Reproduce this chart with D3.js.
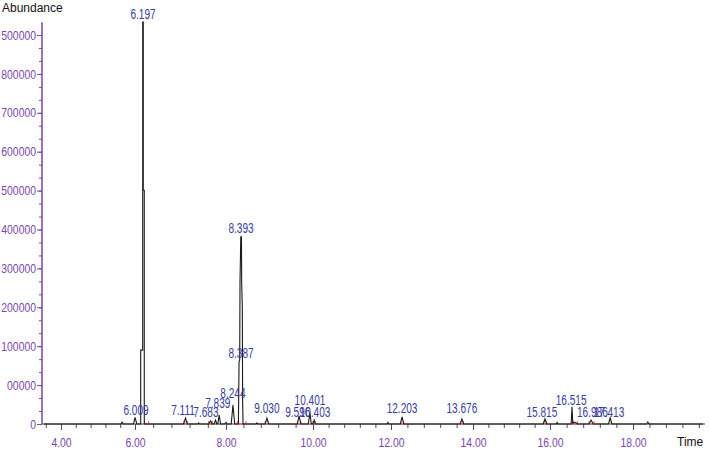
<!DOCTYPE html>
<html>
<head>
<meta charset="utf-8">
<script src="https://cdn.jsdelivr.net/npm/d3@7"></script>
<style>
  body { margin: 0; background: #fff; }
  .narrow { font-family: "Liberation Sans", Arial, sans-serif; }
  .axisTitle { font-family: "Liberation Sans", Arial, sans-serif; font-size: 12px; fill: #111; }
</style>
</head>
<body>
<script>
// chromatogram trace, [time (min), abundance]
var trace = [
    [3.55, 0], [5.62, 0], [5.65, 5000], [5.68, 0],
    [5.96, 0], [6.0, 17000], [6.04, 0],
    [6.125, 0], [6.125, 190000], [6.169, 190000], [6.169, 1033000], [6.182, 1033000],
    [6.182, 601000], [6.204, 601000], [6.204, 0],
    [7.07, 0], [7.11, 15000], [7.15, 0],
    [7.38, 0], [7.40, 3000], [7.42, 0],
    [7.62, 0], [7.66, 8000], [7.70, 0],
    [7.74, 0], [7.77, 10000], [7.80, 0],
    [7.82, 0], [7.85, 23000], [7.88, 0],
    [7.97, 0], [8.0, 4000], [8.03, 0],
    [8.12, 0], [8.16, 49000], [8.20, 0],
    [8.285, 0], [8.30, 160000], [8.315, 165000], [8.322, 365000], [8.34, 481000],
    [8.355, 481000], [8.36, 365000], [8.375, 300000], [8.382, 60000], [8.392, 0],
    [8.69, 0], [8.71, 3000], [8.73, 0],
    [8.90, 0], [8.94, 15000], [8.98, 0],
    [9.64, 0], [9.68, 21000], [9.72, 0],
    [9.89, 0], [9.93, 28000], [9.96, 0],
    [10.0, 0], [10.03, 10000], [10.06, 0],
    [11.9, 0], [11.92, 4000], [11.94, 0],
    [12.23, 0], [12.27, 18000], [12.31, 0],
    [13.69, 0], [13.73, 13000], [13.77, 0],
    [15.83, 0], [15.87, 13000], [15.91, 0],
    [16.15, 0], [16.17, 4000], [16.19, 0],
    [16.51, 0], [16.53, 44000], [16.55, 0], [16.56, 5000], [16.62, 3000], [16.66, 0],
    [16.94, 0], [16.99, 10000], [17.04, 0],
    [17.41, 0], [17.45, 16000], [17.49, 0],
    [18.33, 0], [18.36, 5000], [18.39, 0],
    [19.7, 0]
];

// integration marks (red) : start/end time of integrated peaks
var redMarks = [
    [6.21, 6.30], [7.07, 7.15], [7.62, 7.70], [8.26, 8.46], [8.90, 8.98],
    [9.64, 9.72], [9.98, 10.06], [12.23, 12.31], [13.69, 13.77],
    [15.83, 15.91], [16.55, 16.66], [16.94, 17.06]
];

// peak labels and where they sit (time, abundance)
var peakLabels = ["6.009", "6.197", "7.111", "7.683", "7.839", "8.244", "8.387", "8.393",
    "9.030", "9.596", "10.401", "10.403", "12.203", "13.676", "15.815", "16.515", "16.986", "17.413"];
var labelTimes = [6.022, 6.176, 7.055, 7.56, 7.82, 8.16, 8.345, 8.345,
    8.94, 9.65, 9.93, 10.05, 12.27, 13.73, 15.79, 16.51, 17.02, 17.42];
var labelHeights = [23000, 1041000, 23000, 18000, 41000, 67000, 170000, 491000,
    28000, 18000, 49000, 18000, 28000, 28000, 18000, 49000, 18000, 18000];

// axis ticks
var yTickValues = [0, 100000, 200000, 300000, 400000, 500000, 600000, 700000, 800000, 900000, 1000000];
var yTickLabels = ["0", "00000", "100000", "200000", "300000", "400000", "500000", "600000", "700000", "800000", "500000"];
var xTickValues = [4, 6, 8, 10, 12, 14, 16, 18];
var xTickLabels = ["4.00", "6.00", "8.00", "10.00", "12.00", "14.00", "16.00", "18.00"];

// squeeze text horizontally, the original uses a condensed face
function condense(sel, k){
    sel.each(function(){
        var len = this.getComputedTextLength();
        d3.select(this)
            .attr("textLength", len * k)
            .attr("lengthAdjust", "spacingAndGlyphs");
    });
}

window.onload = function(){
    var w = 709, h = 450;
    var purple = "#7b45b0", blue = "#3a3aa8";

    var svg = d3.select("body").append("svg")
        .attr("width", w)
        .attr("height", h)
        .style("background", "#fff");

    // time scale is a bit uneven in the picture, so use a piecewise scale
    var x = d3.scaleLinear()
        .domain([3.5, 4, 6, 8, 10, 12, 14, 16, 18, 19.75])
        .range([42, 61, 135, 226, 313, 391, 473, 550, 633, 705]);

    var y = d3.scaleLinear()
        .domain([0, 1000000])
        .range([424, 35]);

    // y axis: minor ticks, then labelled ones
    var minorY = d3.range(0, 31).map(function(i){ return i * 100000 / 3; });
    svg.append("g")
        .attr("transform", "translate(42,0)")
        .call(d3.axisLeft(y).tickValues(minorY).tickSize(3).tickFormat(""))
        .call(function(g){ g.select(".domain").remove(); })
        .selectAll("line").attr("stroke", purple);

    var yAxis = svg.append("g")
        .attr("class", "narrow")
        .attr("transform", "translate(42,0)")
        .call(d3.axisLeft(y).tickValues(yTickValues).tickSize(5).tickPadding(1)
            .tickFormat(function(d, i){ return yTickLabels[i]; }));
    yAxis.select(".domain").remove();
    yAxis.selectAll("line").attr("stroke", purple);
    yAxis.selectAll("text").attr("fill", purple).style("font-size", "13px").call(condense, 0.8);

    svg.append("line")
        .attr("x1", 42).attr("x2", 42)
        .attr("y1", y(0)).attr("y2", y(1033000))
        .attr("stroke", purple).attr("stroke-width", 1.5);

    // x axis
    var minorX = d3.range(0, 41).map(function(i){ return +(3.6 + i * 0.4).toFixed(1); })
        .filter(function(d){ return d < 19.75; });
    svg.append("g")
        .attr("transform", "translate(0," + y(0) + ")")
        .call(d3.axisBottom(x).tickValues(minorX).tickSize(4).tickFormat(""))
        .call(function(g){ g.select(".domain").remove(); })
        .selectAll("line").attr("stroke", "#5a3f80");

    var xAxis = svg.append("g")
        .attr("class", "narrow")
        .attr("transform", "translate(0," + y(0) + ")")
        .call(d3.axisBottom(x).tickValues(xTickValues).tickSize(6).tickPadding(8)
            .tickFormat(function(d, i){ return xTickLabels[i]; }));
    xAxis.select(".domain").remove();
    xAxis.selectAll("line").attr("stroke", "#5a3f80");
    xAxis.selectAll("text").attr("fill", purple).style("font-size", "13px").call(condense, 0.8);

    svg.append("line")
        .attr("x1", 42).attr("x2", 705)
        .attr("y1", y(0)).attr("y2", y(0))
        .attr("stroke", "#444").attr("stroke-width", 1);

    // red integration marks
    var marks = svg.append("g").attr("stroke", "#e06060").attr("stroke-width", 1);
    marks.selectAll(".mark")
        .data(redMarks)
        .enter()
        .append("path")
        .attr("class", "mark")
        .attr("fill", "none")
        .attr("d", function(d){
            return "M" + x(d[0]) + "," + (y(0) - 3) + "V" + y(0) +
                "H" + x(d[1]) + "V" + (y(0) - 3);
        });

    // the chromatogram
    var line = d3.line()
        .x(function(d){ return x(d[0]); })
        .y(function(d){ return y(d[1]); });

    svg.append("path")
        .datum(trace)
        .attr("fill", "none")
        .attr("stroke", "#1a1a1a")
        .attr("stroke-width", 1.1)
        .attr("d", line);

    // peak labels
    svg.append("g")
        .attr("class", "narrow")
        .selectAll("text")
        .data(peakLabels)
        .enter()
        .append("text")
        .attr("x", function(d, i){ return x(labelTimes[i]); })
        .attr("y", function(d, i){ return y(labelHeights[i]); })
        .attr("text-anchor", "middle")
        .attr("fill", blue)
        .style("font-size", "14px")
        .text(function(d){ return d; })
        .call(condense, 0.72);

    // axis titles
    svg.append("text")
        .attr("class", "axisTitle")
        .attr("x", 2).attr("y", 12)
        .text("Abundance");

    svg.append("text")
        .attr("class", "axisTitle")
        .attr("x", 677).attr("y", 446)
        .text("Time");
};
</script>
</body>
</html>
